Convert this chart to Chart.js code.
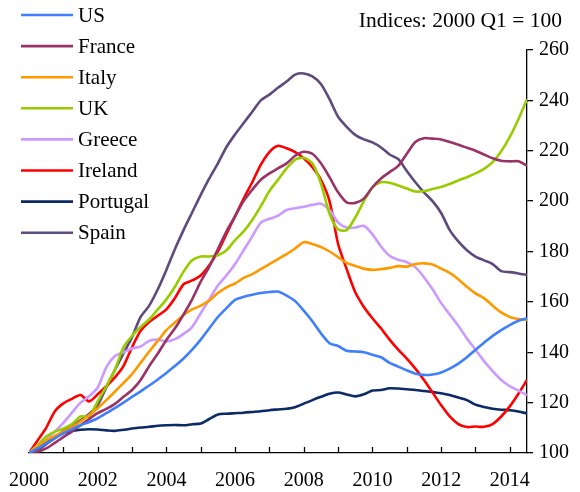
<!DOCTYPE html>
<html>
<head>
<meta charset="utf-8">
<script src="https://cdn.jsdelivr.net/npm/chart.js@4/dist/chart.umd.min.js"></script>
<style>
html,body{margin:0;padding:0;background:#fff;}
#wrap{width:580px;height:492px;position:relative;}
</style>
</head>
<body>
<div id="wrap"><canvas id="c" width="580" height="492"></canvas></div>
<script>
// Quarterly x positions: 2000 Q1 ... 2014 Q3
const firstYear = 2000;
const nQuarters = 59;
const quarters = Array.from({length: nQuarters}, (_, i) => firstYear + i / 4);
const yearTicks = [2001,2002,2003,2004,2005,2006,2007,2008,2009,2010,2011,2012,2013,2014];
const yTickValues = [100,120,140,160,180,200,220,240,260];
const noteText = 'Indices: 2000 Q1 = 100';

const seriesNames = ['US','France','Italy','UK','Greece','Ireland','Portugal','Spain'];
const seriesColors = ['#3f7ffb','#993366','#ff9900','#99cc00','#cc99ff','#ff0000','#0b2a66','#5f4a7d'];

const US = [100,101.8,103.8,105.8, 107.8,109.5,111,112.3, 113.8,115.8,117.8,120, 122.3,124.5,126.8,129.2,
  131.8,134.5,137.5,141, 145,149.5,154,157.5, 160.8,162,162.8,163.5, 163.9,164.1,162.5,160.3,
  156.5,152.3,147.5,143.6, 142.5,140.6,140.3,140, 139,138,135.8,134.3, 132.8,131.5,131,131.2,
  132,133.5,135.5,138, 141,143.8,146.5,148.8, 150.8,152.5,153.5];
const France = [100,100.5,101.8,104, 106.3,108.5,111,113.5, 115.8,117.5,119.5,122.3, 125,129,134.5,139.5,
  144.9,149.5,155,161, 168,174,181,188, 194,200,204.5,208.5, 211,213,215,218,
  219.6,218.8,215,209.5, 203.5,199.5,199.3,201, 205.5,209,211.5,214, 218.8,223.5,225,224.8,
  224.5,223.5,222.4,221.2, 220,218.5,217,216, 215.8,215.8,214.1];
const Italy = [100,102.5,105,106.8, 108.4,110.3,112.5,115, 117.8,121,124.3,127.8, 131.3,135.8,140.3,144.5,
  148.8,151.8,154.8,157, 158.5,160.5,163.5,165.8, 167.3,169.5,171,173, 175,177,179,181.2,
  183.7,183,181.8,180, 177.8,175.5,174.3,173.2, 172.7,173,173.5,174.2, 174,175,175.3,174.8,
  173.2,171.5,169,166, 163.4,161.5,158.5,155.8, 154,153.2,152.8];
const UK = [100,103,106.5,108.5, 109.7,111.5,114.5,114.5, 120.5,126.5,133,142, 146.5,150,153,157,
  161,166,172,176.5, 178,178,178.5,180.5, 184.5,188,192.5,198, 204,208.5,213,216.5,
  217.2,215,207,195, 188.8,188.5,193.5,200, 205.5,207.5,207.3,206.2, 205,203.8,204,204.8,
  205.6,206.8,208.2,209.5, 211,212.8,215.5,219.8, 225.5,232.5,240.4];
const Greece = [100,103,105.5,108.5, 112,116,120,122.5, 126,134,138.5,140, 141.5,142.3,144.5,145,
  144.3,145.2,147.3,150, 155.5,161,166.5,170.5, 175,180.5,186,191.5, 193,194.2,196.5,197.2,
  197.8,198.5,199,196.5, 191.5,189.5,189.5,190.2, 186.8,182,178.3,176.7, 175.8,173.8,169.8,165,
  159.5,155,150.5,145.5, 141,136.5,132.5,129, 126.5,124.8,123];
const Ireland = [100,105,110,116.5, 119.7,121.5,123,120.5, 123.3,126.5,130,134.5, 142,148.5,152,154.5,
  157,161.5,167,168.5, 170.5,174.5,180,187, 194,201,207.5,214.5, 219.5,222,221,219.5,
  217,213.5,208.5,200, 183,173,163.8,158, 153.5,149.5,145,141, 137.5,133.5,129,124,
  119,114.5,111.5,110.3, 110.5,110.4,111.5,114.5, 118.5,123.5,129];
const Portugal = [100,102.5,104.5,106.5, 108,108.7,109.2,109.4, 109.3,109,108.8,109.2, 109.7,110.1,110.4,110.8,
  111,111.1,111,111.4, 111.7,113.5,115.3,115.6, 115.8,116,116.3,116.6, 117,117.3,117.6,118.2,
  119.6,121,122.3,123.5, 124,123.2,122.5,123.3, 124.8,125,125.7,125.6, 125.3,125,124.6,124.2,
  123.7,123,122,121, 119.2,118.3,117.6,117.2, 117,116.5,115.7];
const Spain = [100,101,103.5,106, 108.7,110.8,113,115.5, 119,126,133,139.5, 146,154,158.5,165,
  172.7,181,188.5,195.5, 202.5,209,215,221.5, 226.5,231,235.5,240, 242.3,245,247.5,250.2,
  250.7,249.5,246.5,240.5, 233.5,229.5,226.3,224.5, 223.3,221.3,218.5,216.7, 212,207.5,203.5,200,
  195.3,188.5,184,180.5, 178,176.5,175,172.2, 171.8,171.3,170.7];

const seriesValues = [US, France, Italy, UK, Greece, Ireland, Portugal, Spain];

const FONT = "'Liberation Serif', 'Times New Roman', serif";

const datasets = seriesNames.map((name, k) => ({
  label: name,
  data: seriesValues[k].map((v, i) => ({x: quarters[i], y: v})),
  borderColor: seriesColors[k],
  backgroundColor: seriesColors[k],
  borderWidth: 2.6,
  pointRadius: 0,
  tension: 0.25,
  fill: false
}));

const overlay = {
  id: 'overlay',
  afterDraw(chart) {
    const ctx = chart.ctx;
    const xs = chart.scales.x, ys = chart.scales.y;
    ctx.save();
    // inward x tick marks
    ctx.strokeStyle = '#000';
    ctx.lineWidth = 1.3;
    const yb = ys.getPixelForValue(100);
    yearTicks.forEach(yr => {
      const px = Math.round(xs.getPixelForValue(yr)) + 0.5;
      ctx.beginPath();
      ctx.moveTo(px, yb);
      ctx.lineTo(px, yb - 6);
      ctx.stroke();
    });
    // legend
    ctx.font = '21px ' + FONT;
    ctx.textBaseline = 'middle';
    ctx.textAlign = 'left';
    chart.data.datasets.forEach((ds, i) => {
      const ry = 15 + i * 31.1;
      ctx.strokeStyle = ds.borderColor;
      ctx.lineWidth = 2.6;
      ctx.beginPath();
      ctx.moveTo(21, ry);
      ctx.lineTo(73, ry);
      ctx.stroke();
      ctx.fillStyle = '#000';
      ctx.fillText(ds.label, 78, ry + 1);
    });
    // note
    ctx.textAlign = 'right';
    ctx.textBaseline = 'alphabetic';
    ctx.font = '21.5px ' + FONT;
    ctx.fillText(noteText, 562, 27);
    ctx.restore();
  }
};

new Chart(document.getElementById('c'), {
  type: 'line',
  data: { datasets },
  options: {
    responsive: false,
    animation: false,
    events: [],
    layout: { padding: { left: 29, top: 50, right: 0, bottom: 0 } },
    plugins: { legend: { display: false }, tooltip: { enabled: false }, title: { display: false } },
    scales: {
      x: {
        type: 'linear',
        min: 2000,
        max: 2014.5,
        grid: { display: false },
        border: { display: true, color: '#000', width: 1.3 },
        ticks: {
          stepSize: 1,
          includeBounds: false,
          autoSkip: false,
          maxRotation: 0,
          minRotation: 0,
          padding: 8,
          color: '#000',
          font: { family: FONT, size: 20 },
          callback: v => (Number.isInteger(v) && v % 2 === 0) ? String(v) : ''
        },
        afterFit: s => { s.height = 39; }
      },
      y: {
        position: 'right',
        min: 100,
        max: 260,
        grid: { display: true, drawOnChartArea: false, drawTicks: true, tickLength: 6, color: '#000', lineWidth: 1.3 },
        border: { display: true, color: '#000', width: 1.3 },
        ticks: {
          stepSize: 20,
          padding: 6,
          color: '#000',
          font: { family: FONT, size: 20 }
        },
        afterFit: s => { s.width = 53; }
      }
    }
  },
  plugins: [overlay]
});
</script>
</body>
</html>
